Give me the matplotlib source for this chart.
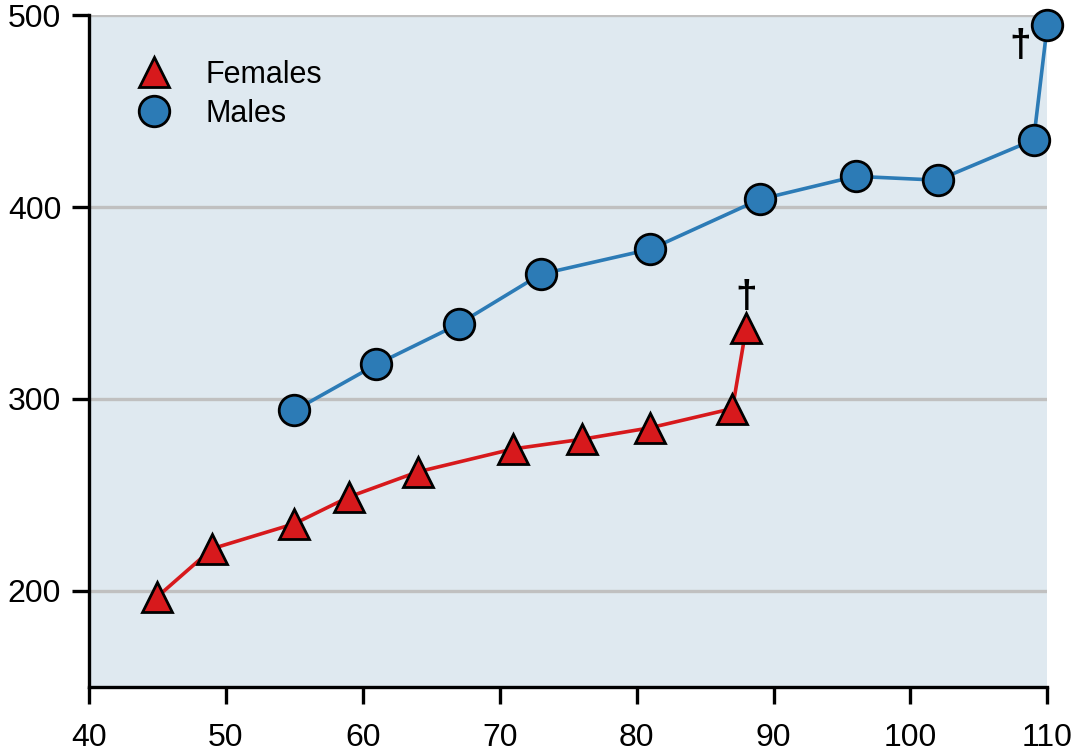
import matplotlib
matplotlib.use("Agg")
import matplotlib.pyplot as plt

plt.rcParams['font.family'] = ['Liberation Sans', 'DejaVu Sans']

# data
female_x = [45, 49, 55, 59, 64, 71, 76, 81, 87, 88]
female_y = [197, 222, 235, 249, 262, 274, 279, 285, 295, 337]
male_x = [55, 61, 67, 73, 81, 89, 96, 102, 109, 110]
male_y = [294, 318, 339, 365, 378, 404, 416, 414, 435, 495]

x_ticks = [40, 50, 60, 70, 80, 90, 100, 110]
y_ticks = [200, 300, 400, 500]

red = '#d7191c'
blue = '#2c7bb6'

fig = plt.figure(figsize=(10.72, 7.54), dpi=100)
ax = fig.add_axes([0.083, 0.089, 0.894, 0.891])
ax.set_facecolor('#dfe9f0')

for y in y_ticks:
    ax.axhline(y, color='#c0c0c0', lw=2.4, zorder=1)

ax.plot(female_x, female_y, color=red, lw=2.6, marker='^', markersize=21,
        markerfacecolor=red, markeredgecolor='black', markeredgewidth=2.0,
        label='Females', zorder=3, clip_on=False)
ax.plot(male_x, male_y, color=blue, lw=2.6, marker='o', markersize=22,
        markerfacecolor=blue, markeredgecolor='black', markeredgewidth=2.0,
        label='Males', zorder=3, clip_on=False)

# dagger marks on the last points
ax.text(female_x[-1], female_y[-1] + 7, '\u2020', fontsize=28, fontweight='bold',
        ha='center', va='bottom')
ax.text(male_x[-1] - 2, male_y[-1] - 11, '\u2020', fontsize=28, fontweight='bold',
        ha='center', va='center')

ax.set_xlim(40, 110)
ax.set_ylim(150, 500)
ax.set_xticks(x_ticks)
ax.set_yticks(y_ticks)
ax.tick_params(axis='both', labelsize=23, length=12, width=2.4, direction='out')
ax.tick_params(axis='x', pad=14)
ax.tick_params(axis='y', pad=8)

for s in ['top', 'right']:
    ax.spines[s].set_visible(False)
for s in ['left', 'bottom']:
    ax.spines[s].set_linewidth(2.4)

leg = ax.legend(loc='upper left', bbox_to_anchor=(0.055, 0.952), frameon=False,
                fontsize=22, handlelength=0, handletextpad=1.7, labelspacing=0.3,
                borderaxespad=0)
for h in leg.legend_handles:
    h.set_linestyle('none')

fig.savefig('out.png', dpi=100)
